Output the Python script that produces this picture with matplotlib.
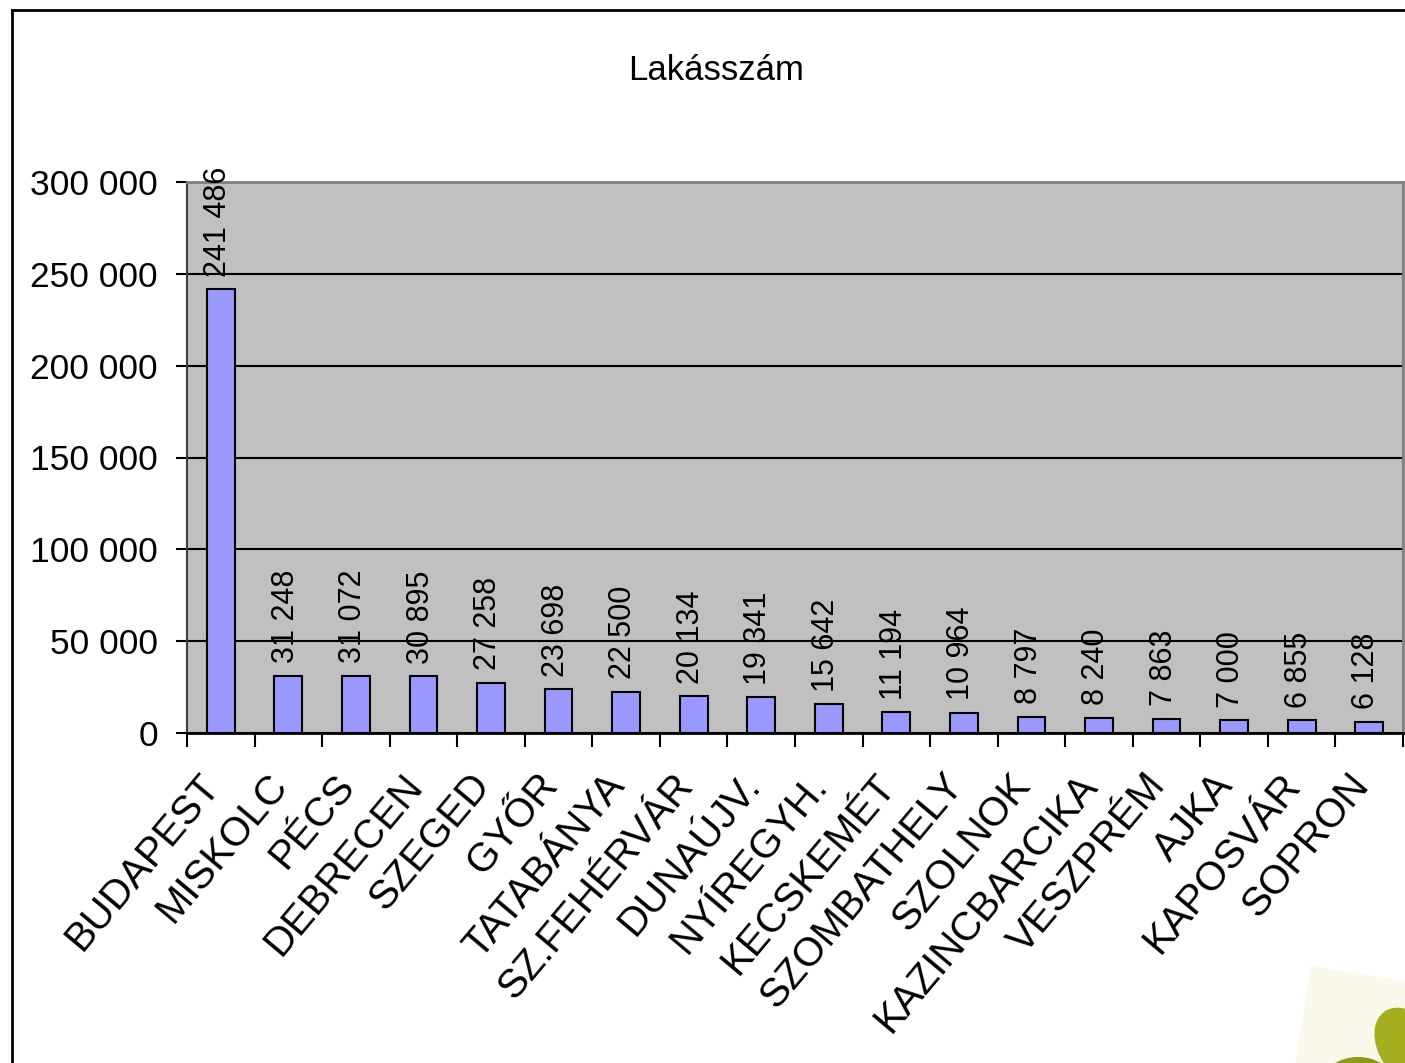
import matplotlib
matplotlib.use("Agg")
import matplotlib.pyplot as plt
from matplotlib import font_manager
from matplotlib.patches import Polygon, Ellipse
from matplotlib.lines import Line2D
import matplotlib.transforms as mtransforms

# ---- data ----
title = "Lakásszám"
categories = ["BUDAPEST", "MISKOLC", "PÉCS", "DEBRECEN", "SZEGED", "GYŐR",
              "TATABÁNYA", "SZ.FEHÉRVÁR", "DUNAÚJV.", "NYÍREGYH.", "KECSKEMÉT",
              "SZOMBATHELY", "SZOLNOK", "KAZINCBARCIKA", "VESZPRÉM", "AJKA",
              "KAPOSVÁR", "SOPRON"]
values = [241486, 31248, 31072, 30895, 27258, 23698, 22500, 20134, 19341,
          15642, 11194, 10964, 8797, 8240, 7863, 7000, 6855, 6128]
yticks = [0, 50000, 100000, 150000, 200000, 250000, 300000]

def fmt(v):
    return f"{v:,}".replace(",", " ")

names = {f.name for f in font_manager.fontManager.ttflist}
base = "Liberation Sans" if "Liberation Sans" in names else "DejaVu Sans"
plt.rcParams['font.family'] = [base, 'DejaVu Sans']

W, H = 1405, 1063
fig = plt.figure(figsize=(W / 100, H / 100), dpi=100)
fig.patch.set_facecolor("white")

# outer frame (left and top visible)
fig.add_artist(Line2D([12 / W, 12 / W], [0, 1 - 10 / H], transform=fig.transFigure,
                      color="black", lw=2))
fig.add_artist(Line2D([12 / W, 1.0], [1 - 10 / H, 1 - 10 / H], transform=fig.transFigure,
                      color="black", lw=2))

ax = fig.add_axes([187 / W, 1 - 733 / H, (1403 - 187) / W, (733 - 182) / H])
ax.set_facecolor("#C0C0C0")

x = list(range(len(categories)))
ax.bar(x, values, width=0.41, color="#9999FF", edgecolor="black", linewidth=1.5, zorder=3)

ax.set_xlim(-0.5, len(categories) - 0.5)
ax.set_ylim(0, 300000)

ax.set_yticks(yticks)
ax.set_yticklabels([fmt(v) for v in yticks], fontsize=25.5)
ax.yaxis.grid(True, color="black", linewidth=1.5, zorder=1)
ax.set_axisbelow(True)
ax.tick_params(axis="y", length=8, width=1.5, pad=13, colors="black")

# category ticks at boundaries, labels at centers
ax.set_xticks(x)
ax.set_xticklabels(categories, fontsize=29)
ax.set_xticks([i - 0.5 for i in range(len(categories) + 1)], minor=True)
ax.tick_params(axis="x", which="major", length=0, pad=33)
ax.tick_params(axis="x", which="minor", length=10, width=1.5, colors="black")
offset = mtransforms.ScaledTranslation(-8 / 100, 0, fig.dpi_scale_trans)
for lab in ax.get_xticklabels():
    lab.set_rotation(50)
    lab.set_ha("right")
    lab.set_va("center")
    lab.set_rotation_mode("anchor")
    lab.set_transform(lab.get_transform() + offset)

for s in ["top", "right"]:
    ax.spines[s].set_color("#808080")
    ax.spines[s].set_linewidth(2)
ax.spines["left"].set_color("#404040")
ax.spines["left"].set_linewidth(1.5)
ax.spines["bottom"].set_color("black")
ax.spines["bottom"].set_linewidth(2)

for xi, v in zip(x, values):
    ax.annotate(fmt(v), (xi, v), xytext=(-2, 9), textcoords="offset points",
                rotation=90, ha="center", va="bottom", fontsize=22, zorder=4,
                annotation_clip=False)

fig.text(716 / W, 1 - 70 / H, title, ha="center", va="center", fontsize=25)

# decorative corner image (approximation)
def fp(px, py):
    return (px / W, 1 - py / H)

deco = Polygon([fp(1311, 966), fp(1405, 981), fp(1405, 1063), fp(1295, 1063)],
               closed=True, transform=fig.transFigure, facecolor="#FBF9EC",
               edgecolor="none", zorder=0)
fig.add_artist(deco)
fig.add_artist(Ellipse(fp(1410, 1048), 64 / W, 84 / H, angle=20, transform=fig.transFigure,
                       facecolor="#A4AE1E", edgecolor="none", zorder=1))
fig.add_artist(Ellipse(fp(1358, 1082), 70 / W, 50 / H, transform=fig.transFigure,
                       facecolor="#8E9A14", edgecolor="none", zorder=1))

fig.savefig("out.png", dpi=100)
